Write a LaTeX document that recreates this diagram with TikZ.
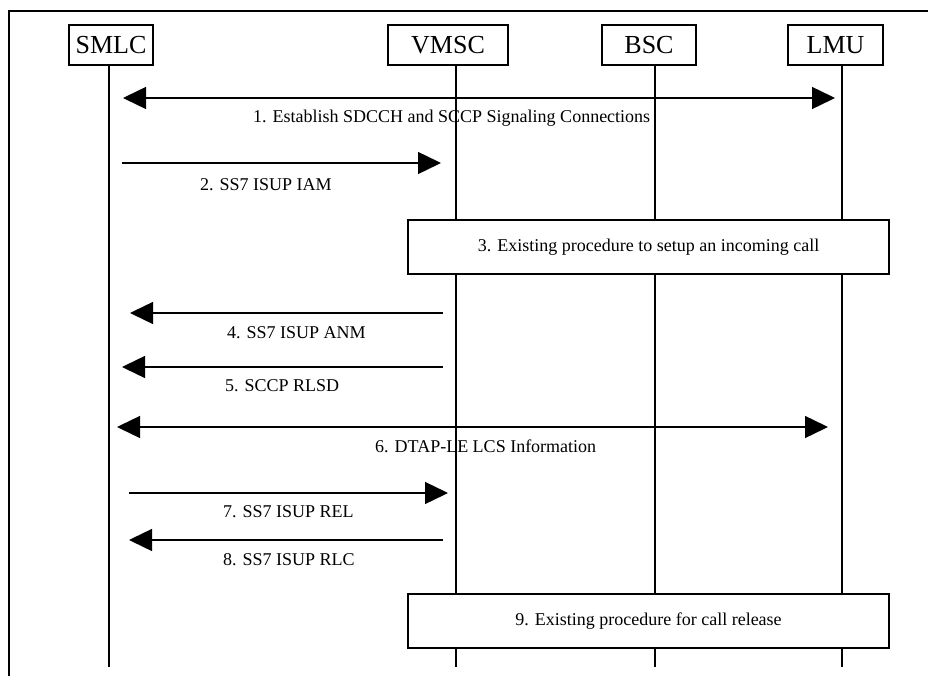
\documentclass[tikz,border=0pt]{standalone}
\usepackage{fontspec}
\setmainfont{Liberation Serif}
\usepackage{tikz}
\usetikzlibrary{positioning, arrows.meta, calc}
\tikzset{
  % header box of a network element
  entity/.style={draw, line width=1.4pt, fill=white, inner sep=0pt,
                 minimum height=40pt, font=\fontsize{26}{28}\selectfont},
  % vertical life line
  life/.style={line width=1.4pt},
  % message arrow
  msg/.style={line width=1.4pt, -{Triangle[length=23pt, width=22pt]}},
  msgboth/.style={line width=1.4pt,
                  {Triangle[length=23pt, width=22pt]}-{Triangle[length=23pt, width=22pt]}},
  % message text
  msglabel/.style={anchor=west, inner sep=0pt, font=\fontsize{18}{20}\selectfont},
  % procedure box over several life lines
  procbox/.style={draw, line width=1.4pt, fill=white, inner sep=0pt,
                  font=\fontsize{18}{20}\selectfont},
}

\begin{document}
\begin{tikzpicture}[x=1pt, y=-1pt]
  \useasboundingbox (0,0) rectangle (928,676);
  % outer frame
  \draw[line width=2.8pt] (9,676) |- (928,11);

  % network elements
  \node[entity, minimum width=84pt]  (smlc) at (111,45)   {SMLC};
  \node[entity, minimum width=120pt] (vmsc) at (448,45)   {VMSC};
  \node[entity, minimum width=94pt]  (bsc)  at (649,45)   {BSC};
  \node[entity, minimum width=95pt]  (lmu)  at (835.5,45) {LMU};

  % life lines
  \coordinate (smlc-end) at (109,667);
  \coordinate (vmsc-end) at (456,667);
  \coordinate (bsc-end)  at (655,667);
  \coordinate (lmu-end)  at (842,667);
  \foreach \n in {smlc,vmsc,bsc,lmu}
    \draw[life] (\n-end |- \n.south) -- (\n-end);

  % 1
  \coordinate (m1a) at (123,98);  \coordinate (m1b) at (835,98);
  \draw[msgboth] (m1a) -- (m1b);
  \node[msglabel] (l1) at (253,118) {1. Establish SDCCH and SCCP Signaling Connections};
  % 2
  \coordinate (m2a) at (122,163); \coordinate (m2b) at (441,163);
  \draw[msg] (m2a) -- (m2b);
  \node[msglabel] (l2) at (200,185) {2. SS7 ISUP IAM};
  % 3
  \node[procbox, minimum width=481pt, minimum height=54pt] (p3) at (648.5,247)
    {3. Existing procedure to setup an incoming call};
  % 4
  \coordinate (m4a) at (443,313); \coordinate (m4b) at (130,313);
  \draw[msg] (m4a) -- (m4b);
  \node[msglabel] (l4) at (227,333) {4. SS7 ISUP ANM};
  % 5
  \coordinate (m5a) at (443,367); \coordinate (m5b) at (122,367);
  \draw[msg] (m5a) -- (m5b);
  \node[msglabel] (l5) at (225,386) {5. SCCP RLSD};
  % 6
  \coordinate (m6a) at (117,427); \coordinate (m6b) at (828,427);
  \draw[msgboth] (m6a) -- (m6b);
  \node[msglabel] (l6) at (375,446) {6. DTAP-LE LCS Information};
  % 7
  \coordinate (m7a) at (129,493); \coordinate (m7b) at (448,493);
  \draw[msg] (m7a) -- (m7b);
  \node[msglabel] (l7) at (223,512) {7. SS7 ISUP REL};
  % 8
  \coordinate (m8a) at (443,540); \coordinate (m8b) at (129,540);
  \draw[msg] (m8a) -- (m8b);
  \node[msglabel] (l8) at (223,560) {8. SS7 ISUP RLC};
  % 9
  \node[procbox, minimum width=481pt, minimum height=54pt] (p9) at (648.5,621)
    {9. Existing procedure for call release};
\end{tikzpicture}
\end{document}
